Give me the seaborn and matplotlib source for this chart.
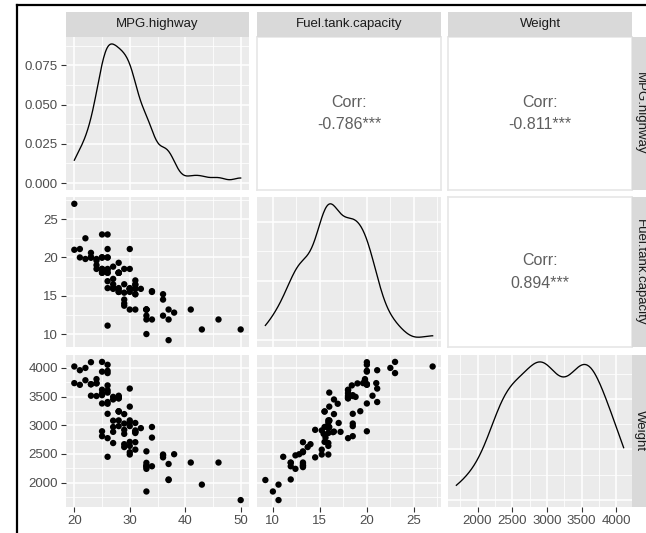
import numpy as np
import pandas as pd
import matplotlib
matplotlib.use("Agg")
import matplotlib.pyplot as plt
from matplotlib.ticker import MultipleLocator, AutoMinorLocator, MaxNLocator, FormatStrFormatter
from matplotlib.lines import Line2D
import seaborn as sns

# Cars93: highway mileage, fuel tank capacity and weight of 93 cars
variables = ["MPG.highway", "Fuel.tank.capacity", "Weight"]

mpg_highway = [31, 25, 26, 26, 30, 31, 28, 25, 27, 25, 25, 36, 34, 28, 29, 23, 20, 26, 25, 28,
               28, 26, 33, 29, 27, 21, 27, 24, 33, 28, 33, 30, 27, 29, 30, 20, 30, 26, 50, 36,
               31, 46, 31, 33, 29, 34, 27, 22, 24, 23, 26, 26, 37, 36, 34, 24, 25, 29, 25, 26,
               26, 33, 24, 33, 30, 23, 26, 31, 31, 23, 28, 30, 41, 31, 28, 27, 28, 26, 38, 37,
               30, 30, 43, 37, 32, 29, 22, 33, 21, 30, 25, 28, 28]

fuel_tank_capacity = [13.2, 18.0, 16.9, 21.1, 21.1, 16.4, 18.0, 23.0, 18.8, 18.0, 20.0, 15.2, 15.6,
                      15.5, 16.5, 20.0, 27.0, 23.0, 20.0, 18.0, 16.0, 16.0, 13.2, 14.0, 16.0, 20.0,
                      16.0, 19.8, 13.2, 18.0, 10.0, 13.2, 15.9, 15.4, 15.5, 21.0, 16.0, 20.0, 10.6,
                      12.4, 15.9, 11.9, 17.0, 11.9, 13.7, 11.9, 17.2, 22.5, 18.5, 20.6, 18.4, 20.0,
                      13.2, 14.5, 15.5, 19.6, 20.0, 14.5, 18.5, 11.1, 18.0, 13.2, 19.0, 13.2, 15.9,
                      20.0, 18.5, 15.2, 16.5, 20.0, 18.0, 15.9, 13.2, 15.2, 15.5, 16.5, 18.0, 18.0,
                      12.8, 9.2, 15.9, 15.9, 10.6, 11.9, 15.9, 18.5, 19.8, 12.4, 21.1, 18.5, 18.5,
                      15.8, 19.3]

weight = [2705, 3560, 3375, 3405, 3640, 2880, 3470, 4105, 3495, 3620, 3935, 2490, 2785, 3240,
          3195, 3715, 4025, 3910, 3380, 3515, 3085, 3570, 2270, 2670, 2970, 3705, 3080, 3805,
          2295, 3490, 1845, 2530, 2690, 2850, 2710, 3735, 3325, 3950, 1695, 2475, 2865, 2350,
          3040, 2345, 2620, 2285, 2885, 4000, 3510, 3515, 3695, 4055, 2325, 2440, 2970, 3735,
          2895, 2920, 3525, 2450, 3610, 2295, 3730, 2545, 3050, 4100, 3200, 2910, 2890, 3715,
          3470, 2640, 2350, 2575, 3240, 3450, 3495, 2775, 2495, 2045, 2490, 3085, 1965, 2055,
          2950, 3030, 3785, 2240, 3960, 2985, 2810, 2985, 3245]

major_steps = {"MPG.highway": 10, "Fuel.tank.capacity": 5, "Weight": 500}

cars = pd.DataFrame({
    "MPG.highway": mpg_highway,
    "Fuel.tank.capacity": fuel_tank_capacity,
    "Weight": weight,
})

plt.rcParams["font.family"] = ["Liberation Sans", "DejaVu Sans"]

W, H = 646, 533
fig = plt.figure(figsize=(W / 100, H / 100), dpi=100)
fig.patch.set_facecolor("white")

col_px = [(66, 249), (257, 441), (448, 632)]
row_px = [(37, 190), (197, 347), (355, 507)]

PANEL = "#EBEBEB"
STRIP = "#D9D9D9"
TICK_TEXT = "#4D4D4D"
FS = 9.5


def px_axes(x0, y0, x1, y1):
    return fig.add_axes([x0 / W, 1 - y1 / H, (x1 - x0) / W, (y1 - y0) / H])


def expanded(values, frac=0.05):
    lo, hi = float(np.min(values)), float(np.max(values))
    pad = (hi - lo) * frac
    return lo - pad, hi + pad


def nrd0_factor(values):
    # R's default bandwidth rule, as a factor of the sample standard deviation
    v = np.asarray(values, dtype=float)
    sd = v.std(ddof=1)
    q1, q3 = np.percentile(v, [25, 75])
    bw = 0.9 * min(sd, (q3 - q1) / 1.34) * len(v) ** (-0.2)
    return bw / sd


def corr_label(x, y):
    r = np.corrcoef(x, y)[0, 1]
    n = len(x)
    t = abs(r) * np.sqrt((n - 2) / (1 - r ** 2))
    stars = "***" if t > 3.40 else "**" if t > 2.63 else "*" if t > 1.99 else ""
    return f"Corr:\n{r:.3f}{stars}"


def style_panel(ax):
    ax.set_facecolor(PANEL)
    for s in ax.spines.values():
        s.set_visible(False)
    ax.set_axisbelow(True)
    ax.grid(which="major", color="white", linewidth=1.1)
    ax.grid(which="minor", color="white", linewidth=0.55)
    ax.tick_params(which="both", length=0, labelleft=False, labelbottom=False)
    ax.set_xlabel("")
    ax.set_ylabel("")


nvar = len(variables)
for i, vy in enumerate(variables):
    for j, vx in enumerate(variables):
        (x0, x1), (y0, y1) = col_px[j], row_px[i]
        ax = px_axes(x0, y0, x1, y1)
        if i < j:
            ax.set_facecolor("white")
            ax.set_xticks([])
            ax.set_yticks([])
            for s in ax.spines.values():
                s.set_color("#E6E6E6")
                s.set_linewidth(1.2)
            ax.text(0.5, 0.5, corr_label(cars[vx], cars[vy]), transform=ax.transAxes,
                    ha="center", va="center", fontsize=11.5, color="#5F5F5F",
                    linespacing=1.65)
            continue

        if i == j:
            sns.kdeplot(x=cars[vx], ax=ax, bw_method=nrd0_factor(cars[vx]), cut=0,
                        color="black", linewidth=0.95)
            ymax = max(line.get_ydata().max() for line in ax.lines)
            ax.set_ylim(-0.05 * ymax, 1.05 * ymax)
            ax.yaxis.set_major_locator(MaxNLocator(nbins=4, steps=[1, 2, 2.5, 5, 10]))
        else:
            sns.scatterplot(x=cars[vx], y=cars[vy], ax=ax, s=21, color="black",
                            linewidth=0, edgecolor="none")
            ax.set_ylim(*expanded(cars[vy]))
            ax.yaxis.set_major_locator(MultipleLocator(major_steps[vy]))

        ax.set_xlim(*expanded(cars[vx]))
        ax.xaxis.set_major_locator(MultipleLocator(major_steps[vx]))
        ax.xaxis.set_minor_locator(AutoMinorLocator(2))
        ax.yaxis.set_minor_locator(AutoMinorLocator(2))
        style_panel(ax)

        if j == 0:
            ax.tick_params(axis="y", which="major", length=3.8, width=0.8, color="#333333",
                           labelleft=True, labelsize=FS, labelcolor=TICK_TEXT, pad=2)
            if i == 0:
                ax.yaxis.set_major_formatter(FormatStrFormatter("%.3f"))
        if i == nvar - 1:
            ax.tick_params(axis="x", which="major", length=3.8, width=0.8, color="#333333",
                           labelbottom=True, labelsize=FS, labelcolor=TICK_TEXT, pad=2)

# facet strips: variable names across the top and down the right side
for j, name in enumerate(variables):
    x0, x1 = col_px[j]
    sax = px_axes(x0, 12, x1, 37)
    sax.set_facecolor(STRIP)
    sax.set_xticks([])
    sax.set_yticks([])
    for s in sax.spines.values():
        s.set_visible(False)
    sax.text(0.5, 0.5, name, transform=sax.transAxes, ha="center", va="center",
             fontsize=FS, color="#1A1A1A")

for i, name in enumerate(variables):
    y0, y1 = row_px[i]
    sax = px_axes(632, y0, 657, y1)
    sax.set_facecolor(STRIP)
    sax.set_xticks([])
    sax.set_yticks([])
    for s in sax.spines.values():
        s.set_visible(False)
    sax.text((640 - 632) / 25, 0.5, name, transform=sax.transAxes, ha="center",
             va="center", rotation=-90, fontsize=FS, color="#1A1A1A")

# window frame on the left and top edges
fig.add_artist(Line2D([17 / W, 17 / W], [0, 1 - 4.5 / H], transform=fig.transFigure,
                      color="black", linewidth=1.6))
fig.add_artist(Line2D([17 / W, 1], [1 - 4.5 / H, 1 - 4.5 / H], transform=fig.transFigure,
                      color="black", linewidth=1.6))

fig.savefig("out.png", dpi=100)
